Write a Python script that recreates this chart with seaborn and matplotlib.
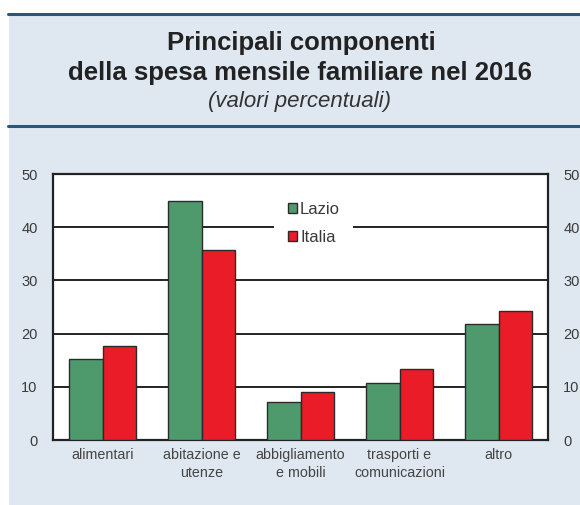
import matplotlib
matplotlib.use("Agg")
import matplotlib.pyplot as plt
from matplotlib.patches import Rectangle
from matplotlib.lines import Line2D
import seaborn as sns
import pandas as pd

# Spending components (percent of monthly household spending), 2016
categories = ["alimentari", "abitazione e\nutenze", "abbigliamento\ne mobili",
              "trasporti e\ncomunicazioni", "altro"]
lazio = [15.2, 45.0, 7.2, 10.7, 21.8]
italia = [17.7, 35.7, 9.0, 13.3, 24.3]
series_names = ["Lazio", "Italia"]
y_ticks = [0, 10, 20, 30, 40, 50]

df = pd.DataFrame({
    "categoria": categories * 2,
    "valore": lazio + italia,
    "serie": [series_names[0]] * len(categories) + [series_names[1]] * len(categories),
})

sns.set_theme(style="white")
plt.rcParams["font.family"] = ["Liberation Sans", "DejaVu Sans"]

fig = plt.figure(figsize=(5.8, 5.05), dpi=100)
W, H = 580, 505

# light blue panel and the two dark rules around the heading
panel_col = "#dfe8f1"
rule_col = "#2e5674"
fig.patches.append(Rectangle((9 / W, 0), 1 - 9 / W, (H - 14) / H,
                             transform=fig.transFigure, facecolor=panel_col,
                             edgecolor="none", zorder=-10))
for yy in (14, 126):
    fig.lines.append(Line2D([8 / W, 1], [1 - yy / H, 1 - yy / H],
                            transform=fig.transFigure, color=rule_col, lw=2.2, zorder=-5))

fig.text(301 / W, 1 - 43 / H, "Principali componenti", ha="center", va="center",
         fontsize=18.5, fontweight="bold", color="#222222")
fig.text(300 / W, 1 - 73 / H, "della spesa mensile familiare nel 2016", ha="center",
         va="center", fontsize=18.5, fontweight="bold", color="#222222")
fig.text(300 / W, 1 - 102 / H, "(valori percentuali)", ha="center", va="center",
         fontsize=16, style="italic", color="#333333")

ax = fig.add_axes([53 / W, 1 - 440 / H, (548 - 53) / W, (440 - 174) / H])
ax.set_facecolor("white")

sns.barplot(data=df, x="categoria", y="valore", hue="serie",
            palette={"Lazio": "#4f9a6d", "Italia": "#ea1c27"},
            width=0.68, gap=0, edgecolor="#2a2a2a", linewidth=1.0,
            saturation=1, ax=ax, zorder=3)

ax.set_ylim(0, 50)
ax.set_yticks(y_ticks)
ax.set_xlim(-0.5, len(categories) - 0.5)
ax.set_xlabel("")
ax.set_ylabel("")
ax.yaxis.grid(True, color="#111111", lw=1.3)
ax.set_axisbelow(True)
for s in ax.spines.values():
    s.set_color("#222222")
    s.set_linewidth(1.6)
ax.tick_params(axis="y", length=0, pad=11, labelsize=10.5, labelcolor="#3a3a3a",
               labelright=True, labelleft=True)
ax.tick_params(axis="x", length=0, pad=6, labelsize=10.3, labelcolor="#444444")
for lbl in ax.get_xticklabels():
    lbl.set_linespacing(1.3)

handles, labels = ax.get_legend_handles_labels()
leg = ax.legend(handles, labels, loc="upper left", bbox_to_anchor=(0.43, 0.975),
                frameon=True, fancybox=False, framealpha=1, facecolor="white",
                edgecolor="white", fontsize=12, handlelength=0.55, handleheight=0.55,
                handletextpad=0.2, labelspacing=0.75, borderpad=0.8,
                labelcolor="#3a3a3a")
leg.get_frame().set_linewidth(0)

fig.savefig("out.png", dpi=100)
